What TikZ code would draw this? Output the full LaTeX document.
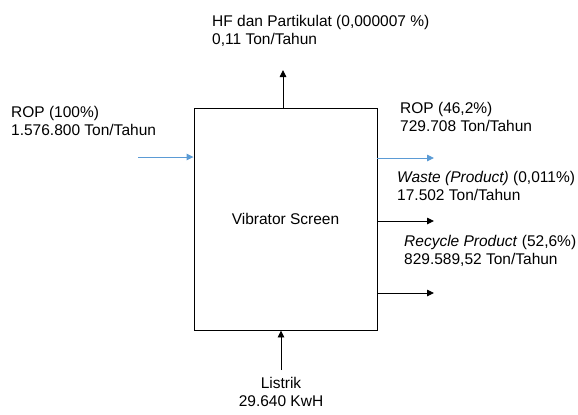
\documentclass[tikz,border=0pt]{standalone}
\usepackage{fontspec}
\setmainfont{Liberation Sans}
\usetikzlibrary{arrows.meta,positioning}
\definecolor{feedblue}{RGB}{91,155,213}

\begin{document}
\begin{tikzpicture}[x=1bp,y=-1bp,>={Triangle[length=7bp,width=6.5bp]},
 lbl/.style={align=left,anchor=west,inner sep=0pt,font=\fontsize{15.5bp}{18bp}\selectfont},
 flow/.style={->,line width=0.9bp},
 feed/.style={flow,draw=feedblue,color=feedblue}]
\useasboundingbox (0,0) rectangle (578,414);
% unit
\node[draw,line width=0.9bp,minimum width=183bp,minimum height=222bp,inner sep=0pt,
 font=\fontsize{15.5bp}{18bp}\selectfont] (screen) at (285.5,219) {Vibrator Screen};
% labels
\node[lbl] (hf) at (212,31) {HF dan Partikulat (0,000007 \%)\\0,11 Ton/Tahun};
\node[lbl] (ropin) at (11,121) {ROP (100\%)\\1.576.800 Ton/Tahun};
\node[lbl] (ropout) at (400,117) {ROP (46,2\%)\\729.708 Ton/Tahun};
\node[lbl] (waste) at (397,186) {\textit{Waste (Product)} (0,011\%)\\17.502 Ton/Tahun};
\node[lbl] (recycle) at (404,251) {\textit{Recycle Product} (52,6\%)\\829.589,52 Ton/Tahun};
\node[lbl,anchor=center,align=center] (listrik) at (281,392) {Listrik\\29.640 KwH};
% free ends
\coordinate (inL) at (138,157);
\coordinate (outR) at (434,158);
\coordinate (outW) at (434,221);
\coordinate (outP) at (434,293);
\coordinate (outT) at (283,70);
\coordinate (inB) at (281,370);
% streams
\draw[feed] (inL) -- (inL -| screen.west);
\draw[feed] (outR -| screen.east) -- (outR);
\draw[flow] (outW -| screen.east) -- (outW);
\draw[flow] (outP -| screen.east) -- (outP);
\draw[flow] (outT |- screen.north) -- (outT);
\draw[flow] (inB) -- (inB |- screen.south);
\end{tikzpicture}
\end{document}
